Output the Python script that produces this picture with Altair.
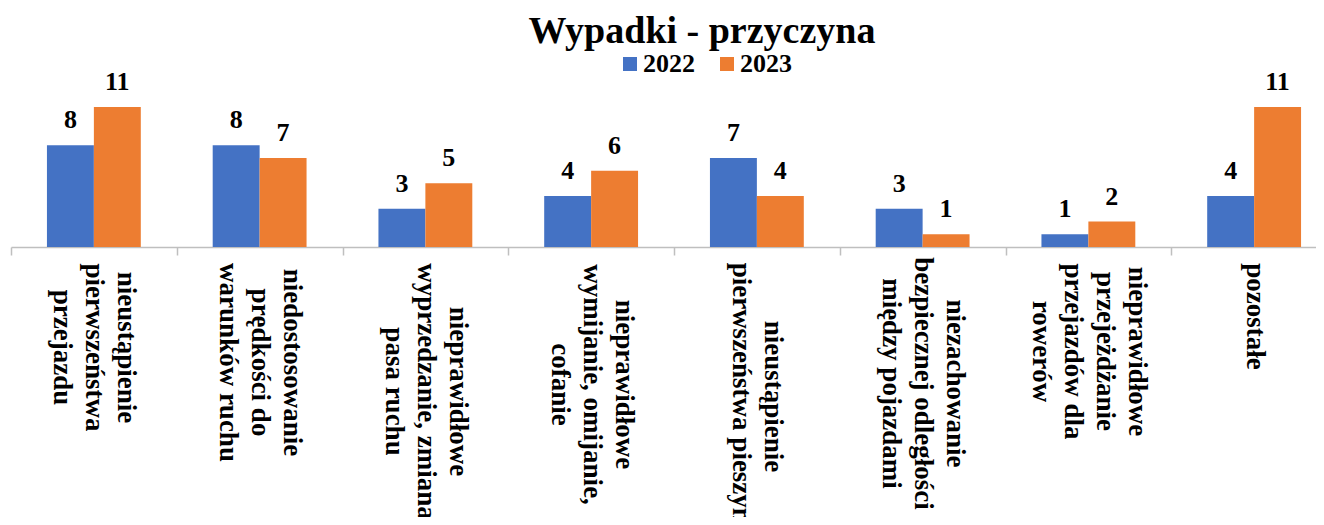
import json
import altair as alt
import pandas as pd

categories = [
    "nieustąpienie\npierwszeństwa\nprzejazdu",
    "niedostosowanie\nprędkości do\nwarunków ruchu",
    "nieprawidłowe\nwyprzedzanie, zmiana\npasa ruchu",
    "nieprawidłowe\nwymijanie, omijanie,\ncofanie",
    "nieustąpienie\npierwszeństwa pieszym",
    "niezachowanie\nbezpiecznej odległości\nmiędzy pojazdami",
    "nieprawidłowe\nprzejeżdżanie\nprzejazdów dla\nrowerów",
    "pozostałe",
]
years = ["2022", "2023"]
values_2022 = [8, 8, 3, 4, 7, 3, 1, 4]
values_2023 = [11, 7, 5, 6, 4, 1, 2, 11]

# label block centre distance below the tick ends (styling)
label_pad = [92, 107, 136, 129, 141, 128, 96, 61]

rows = []
for c, a, b in zip(categories, values_2022, values_2023):
    rows.append({"category": c, "year": "2022", "value": a})
    rows.append({"category": c, "year": "2023", "value": b})
df = pd.DataFrame(rows)

FONT = "Liberation Serif"
LINE_H = 32


def test(c):
    return f"datum.value == {json.dumps(c, ensure_ascii=False)}"


pad_cond = [{"test": test(c), "value": p} for c, p in zip(categories, label_pad)]
# centre multi-line blocks on the band (Vega anchors the first line)
off_cond = [
    {"test": test(c), "value": (c.count("\n")) * LINE_H / 2} for c in categories
]

x_enc = alt.X(
    "category:N",
    sort=categories,
    scale=alt.Scale(paddingInner=0, paddingOuter=0),
    axis=alt.Axis(
        title=None,
        domainColor="#bfbfbf",
        domainWidth=1.5,
        tickColor="#bfbfbf",
        tickWidth=1.5,
        tickSize=8,
        tickBand="extent",
        labelAngle=90,
        labelAlign="center",
        labelBaseline="middle",
        labelFont=FONT,
        labelFontWeight="bold",
        labelFontSize=27,
        labelLineHeight=LINE_H,
        labelColor="#000000",
        labelLimit=0,
        labelOverlap=False,
        labelPadding={"condition": pad_cond, "value": 60},
        labelOffset={"condition": off_cond, "value": 0},
        labelExpr="split(datum.label, '\\n')",
    ),
)
xoff = alt.XOffset("year:N", scale=alt.Scale(paddingInner=0, paddingOuter=0.766))
y_enc = alt.Y("value:Q", scale=alt.Scale(domain=[0, 11], nice=False), axis=None)

bars = alt.Chart(df).mark_bar().encode(
    x=x_enc,
    xOffset=xoff,
    y=y_enc,
    color=alt.Color(
        "year:N",
        scale=alt.Scale(domain=years, range=["#4472C4", "#ED7D31"]),
        legend=alt.Legend(
            title=None,
            orient="none",
            legendX=606,
            legendY=-56,
            direction="horizontal",
            symbolType="square",
            symbolSize=196,
            symbolStrokeWidth=0,
            symbolOpacity=1,
            labelFont=FONT,
            labelFontWeight="bold",
            labelFontSize=26,
            labelColor="#000000",
            columnPadding=19,
            labelOffset=0,
        ),
    ),
)

labels = alt.Chart(df).mark_text(
    font=FONT, fontWeight="bold", fontSize=26, baseline="alphabetic", dy=-17, color="#000000"
).encode(
    x=alt.X("category:N", sort=categories),
    xOffset=xoff,
    y=y_enc,
    text="value:Q",
)

chart = (
    alt.layer(bars, labels)
    .properties(
        width=1326,
        height=140,
        autosize=alt.AutoSizeParams(type="none"),
        padding={"left": 3, "top": 99, "right": -21, "bottom": 270},
        title=alt.TitleParams(
            "Wypadki - przyczyna",
            font=FONT,
            fontWeight="bold",
            fontSize=38,
            color="#000000",
            anchor="middle",
            frame="group",
            dx=28,
            offset=0,
        ),
    )
    .configure_view(stroke=None)
)

chart.save("out.html", embed_options={"renderer": "svg", "actions": False})
